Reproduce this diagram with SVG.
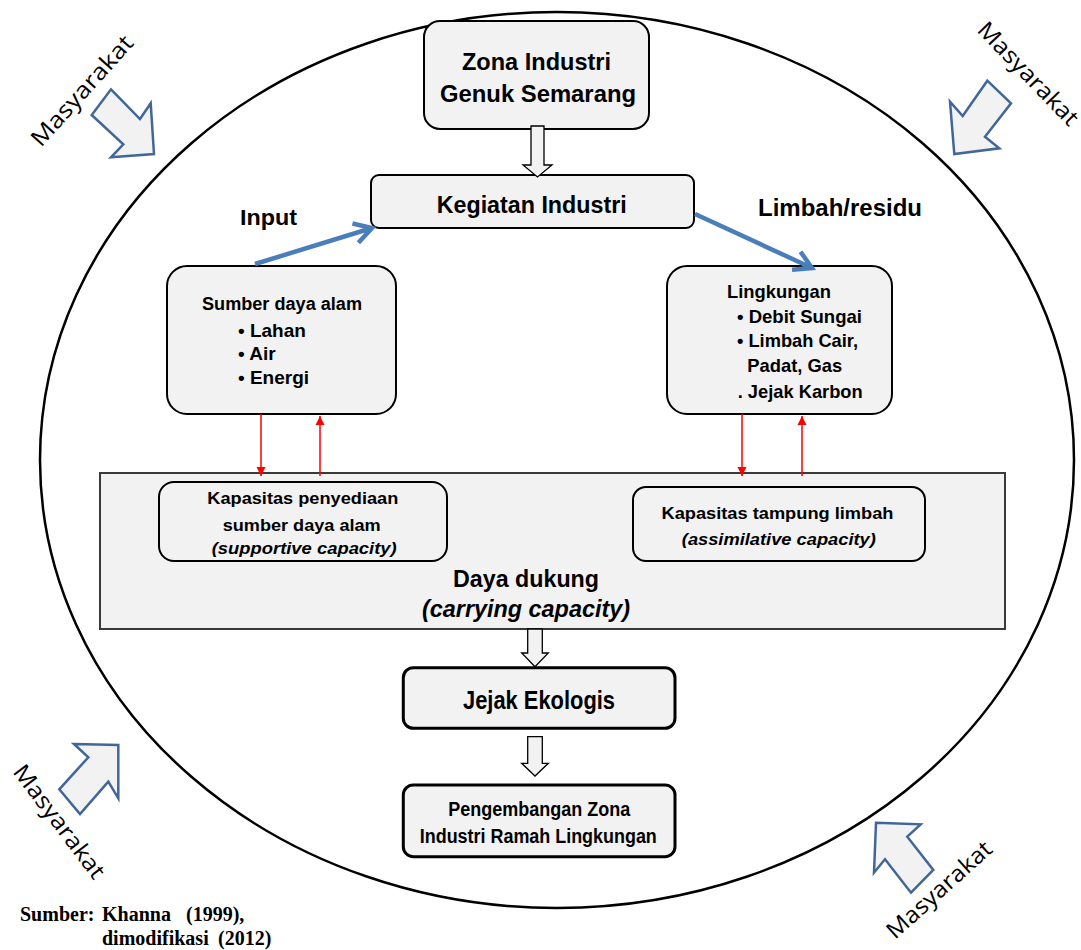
<svg xmlns="http://www.w3.org/2000/svg" width="1081" height="950" viewBox="0 0 1081 950">
<style>
.box{fill:#f2f2f2;stroke:#000;stroke-width:2}
.thick{stroke-width:3}
.b{font-family:"Liberation Sans",Arial,sans-serif;font-weight:bold;fill:#000}
.c{text-anchor:middle}
.i{font-style:italic}
.m{font-family:"Open Sans","Noto Sans",sans-serif;font-size:23px;fill:#000}
.ma{fill:#f2f2f2;stroke:#41679a;stroke-width:2.5;stroke-linejoin:miter}
.blk{fill:#f2f2f2;stroke:#000;stroke-width:1.3}
.blue{fill:none;stroke:#4a7ebb;stroke-width:4.5;stroke-linejoin:miter}
.red{stroke:#ff0000;stroke-width:1.5;fill:none}
.src{font-family:"Liberation Serif","Times New Roman",serif;font-weight:bold;font-size:20px;fill:#000}
</style>
<defs>
<marker id="rh" viewBox="0 0 10 10" refX="10" refY="5" markerWidth="9" markerHeight="10" markerUnits="userSpaceOnUse" orient="auto">
<path d="M0,0 L10,5 L0,10 Z" fill="#ff0000"/>
</marker>
</defs>
<rect width="1081" height="950" fill="#fff"/>

<g id="ellipse">
<ellipse cx="557" cy="460" rx="517" ry="448" fill="none" stroke="#000" stroke-width="2.5"/>
</g>

<g id="masyarakat-tl">
<polygon class="ma" points="111,89.3 140,119 150.7,103.3 154,154 111,157.3 123.3,144.3 91.7,115"/>
<text class="m" transform="translate(41,148) rotate(-48)" textLength="140" lengthAdjust="spacingAndGlyphs">Masyarakat</text>
</g>
<g id="masyarakat-tr">
<polygon class="ma" points="987.3,80.7 1011,103.3 985,136.7 999.3,148.3 954.3,154 950,101.7 962.7,116"/>
<text class="m" transform="translate(976,31) rotate(46)" textLength="134" lengthAdjust="spacingAndGlyphs">Masyarakat</text>
</g>
<g id="masyarakat-bl">
<polygon class="ma" points="74,744 118.3,745 118.3,798.3 108.3,781.7 80,814 59.3,789.3 88.3,757.3"/>
<text class="m" transform="translate(12,772) rotate(53)" textLength="136" lengthAdjust="spacingAndGlyphs">Masyarakat</text>
</g>
<g id="masyarakat-br">
<polygon class="ma" points="876,822.7 920.7,824.3 907.3,836.7 933.3,870 911,892.7 885,859.3 874,872.7"/>
<text class="m" transform="translate(895,940) rotate(-42)" textLength="133" lengthAdjust="spacingAndGlyphs">Masyarakat</text>
</g>

<g id="zona">
<rect class="box" x="424" y="21" width="225" height="108" rx="16"/>
<text class="b c" x="536.5" y="69.5" font-size="24" textLength="149" lengthAdjust="spacingAndGlyphs">Zona Industri</text>
<text class="b c" x="538" y="102" font-size="24" textLength="196" lengthAdjust="spacingAndGlyphs">Genuk Semarang</text>
</g>

<g id="kegiatan">
<rect class="box" x="371" y="175" width="323" height="53" rx="8"/>
<text class="b c" x="531.7" y="212.7" font-size="23" textLength="190" lengthAdjust="spacingAndGlyphs">Kegiatan Industri</text>
</g>

<g id="label-input">
<text class="b" x="240" y="225" font-size="22" textLength="57" lengthAdjust="spacingAndGlyphs">Input</text>
</g>
<g id="label-limbah">
<text class="b" x="758" y="216" font-size="23" textLength="164" lengthAdjust="spacingAndGlyphs">Limbah/residu</text>
</g>

<g id="sda">
<rect class="box" x="167" y="266" width="229" height="148" rx="20"/>
<text class="b" x="202" y="310" font-size="18" textLength="160" lengthAdjust="spacingAndGlyphs">Sumber daya alam</text>
<text class="b" x="238" y="337" font-size="19">• Lahan</text>
<text class="b" x="238" y="360.3" font-size="19">• Air</text>
<text class="b" x="238" y="384.3" font-size="19">• Energi</text>
</g>

<g id="lingkungan">
<rect class="box" x="667" y="266" width="225" height="148" rx="20"/>
<text class="b" x="727" y="297.7" font-size="18.5" textLength="104" lengthAdjust="spacingAndGlyphs">Lingkungan</text>
<text class="b" x="737" y="323.3" font-size="19" textLength="125" lengthAdjust="spacingAndGlyphs">• Debit Sungai</text>
<text class="b" x="737" y="347.3" font-size="19" textLength="121" lengthAdjust="spacingAndGlyphs">• Limbah Cair,</text>
<text class="b" x="747.3" y="371.7" font-size="19" textLength="95" lengthAdjust="spacingAndGlyphs">Padat, Gas</text>
<text class="b" x="737.7" y="397.7" font-size="19" textLength="125" lengthAdjust="spacingAndGlyphs">. Jejak Karbon</text>
</g>

<g id="daya-dukung">
<rect x="100" y="473" width="905" height="156" fill="#f2f2f2" stroke="#3a3a3a" stroke-width="2"/>
<text class="b c" x="526" y="587" font-size="24" textLength="146" lengthAdjust="spacingAndGlyphs">Daya dukung</text>
<text class="b c i" x="526" y="616.7" font-size="24" textLength="208" lengthAdjust="spacingAndGlyphs">(carrying capacity)</text>
</g>

<g id="kap-sda">
<rect class="box" x="159" y="482" width="288" height="79" rx="15" stroke-width="1.8"/>
<text class="b c" x="302.8" y="504" font-size="17" textLength="191" lengthAdjust="spacingAndGlyphs">Kapasitas penyediaan</text>
<text class="b c" x="301.7" y="530.7" font-size="17" textLength="158" lengthAdjust="spacingAndGlyphs">sumber daya alam</text>
<text class="b c i" x="304.2" y="553.5" font-size="17" textLength="185" lengthAdjust="spacingAndGlyphs">(supportive capacity)</text>
</g>

<g id="kap-limbah">
<rect class="box" x="633" y="487" width="292" height="74" rx="13" stroke-width="1.8"/>
<text class="b c" x="777.5" y="519.3" font-size="17" textLength="232" lengthAdjust="spacingAndGlyphs">Kapasitas tampung limbah</text>
<text class="b c i" x="778.8" y="545" font-size="17" textLength="194" lengthAdjust="spacingAndGlyphs">(assimilative capacity)</text>
</g>

<g id="jejak">
<rect class="box thick" x="403.3" y="667.7" width="271.7" height="60.6" rx="10"/>
<text class="b c" x="539" y="709" font-size="26" textLength="152" lengthAdjust="spacingAndGlyphs">Jejak Ekologis</text>
</g>

<g id="pengembangan">
<rect class="box thick" x="403.3" y="785" width="271.7" height="71.7" rx="10"/>
<text class="b c" x="539.2" y="816" font-size="20" textLength="182" lengthAdjust="spacingAndGlyphs">Pengembangan Zona</text>
<text class="b c" x="538.3" y="842.7" font-size="20" textLength="237" lengthAdjust="spacingAndGlyphs">Industri Ramah Lingkungan</text>
</g>

<g id="sumber">
<text class="src" y="921"><tspan x="20">Sumber:</tspan><tspan x="102">Khanna</tspan><tspan x="186">(1999),</tspan></text>
<text class="src" y="945"><tspan x="102">dimodifikasi</tspan><tspan x="218">(2012)</tspan></text>
</g>

<g id="connectors">
<polygon class="blk" points="531,126 544,126 544,165 552,165 537.5,177 523,165 531,165"/>
<polygon class="blk" points="527.7,629 542.3,629 542.3,653 548.3,653 535,666.7 521.7,653 527.7,653"/>
<polygon class="blk" points="527.7,736.7 542.3,736.7 542.3,763.3 548.3,763.3 535,776 521.7,763.3 527.7,763.3"/>
<path class="blue" d="M255,264 L372,228 M352.5,223.5 L372,228 L358.4,242.7"/>
<path class="blue" d="M695,214 L812,268 M800.5,251.7 L812,268 L792,269.8"/>
<line class="red" x1="261" y1="414" x2="261" y2="476" marker-end="url(#rh)"/>
<line class="red" x1="320" y1="476" x2="320" y2="416" marker-end="url(#rh)"/>
<line class="red" x1="742" y1="414" x2="742" y2="476" marker-end="url(#rh)"/>
<line class="red" x1="802" y1="476" x2="802" y2="416" marker-end="url(#rh)"/>
</g>
</svg>
